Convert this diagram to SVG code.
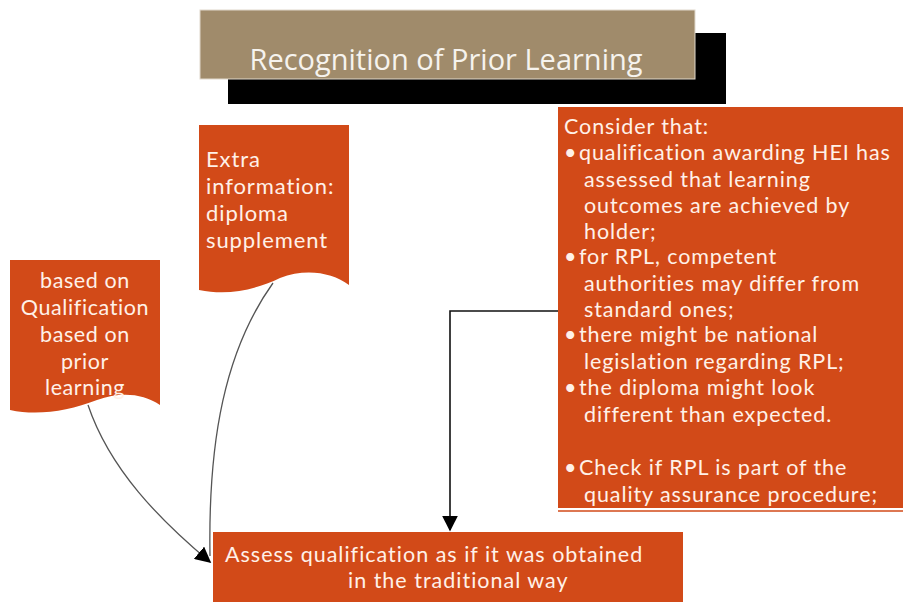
<svg xmlns="http://www.w3.org/2000/svg" width="903" height="602" viewBox="0 0 903 602">
<style>
.box{fill:#D24A18;}
.t{font-family:Lato,"Open Sans","Liberation Sans",sans-serif;fill:#FFF1E8;letter-spacing:0.9px;}
.c{stroke:#555;stroke-width:1.3;fill:none;}
.k{stroke:#111;stroke-width:1.6;fill:none;}
</style>
<defs>
<marker id="ah2" viewBox="0 0 10 10" refX="9" refY="5" markerWidth="16" markerHeight="16" markerUnits="userSpaceOnUse" orient="auto">
<path d="M0,0 L10,5 L0,10 Z" fill="#000"/>
</marker>
</defs>
<rect width="903" height="602" fill="#fff"/>
<g id="title">
<rect x="228" y="33" width="498" height="71" fill="#000"/>
<rect x="200" y="10" width="495" height="69" fill="#A08B6B" stroke="#e0d8cc" stroke-width="1"/>
<text x="446" y="70" text-anchor="middle" font-family="'Open Sans','Liberation Sans',sans-serif" font-size="29" fill="#F6F3EE">Recognition of Prior Learning</text>
</g>
<g id="rpl-doc">
<path class="box" d="M10,260 H160 V405 C142,393 120,392 97,400 C68,411 38,416 10,410 Z"/>
<text class="t" text-anchor="middle" font-size="21.5" style="letter-spacing:0.6px"><tspan x="85" y="288">based on</tspan><tspan x="85" y="315">Qualification</tspan><tspan x="85" y="342">based on</tspan><tspan x="85" y="369">prior</tspan><tspan x="85" y="395">learning</tspan></text>
</g>
<g id="extra-doc">
<path class="box" d="M199,125 H349 V285 C332,272 305,268 280,278 C255,290 228,296 199,290 Z"/>
<text class="t" font-size="22"><tspan x="206" y="167">Extra</tspan><tspan x="206" y="194">information:</tspan><tspan x="206" y="221">diploma</tspan><tspan x="206" y="248">supplement</tspan></text>
</g>
<g id="consider">
<rect class="box" x="558" y="107" width="345" height="401"/>
<line x1="558" y1="511" x2="903" y2="511" stroke="#D24A18" stroke-width="1.5"/>
<text class="t" font-size="21.5">
<tspan x="564" y="134">Consider that:</tspan>
<tspan x="564" y="160">•</tspan><tspan x="579" y="160">qualification awarding HEI has</tspan>
<tspan x="584" y="187">assessed that learning</tspan>
<tspan x="584" y="213">outcomes are achieved by</tspan>
<tspan x="584" y="239">holder;</tspan>
<tspan x="564" y="264">•</tspan><tspan x="579" y="264">for RPL, competent</tspan>
<tspan x="584" y="291">authorities may differ from</tspan>
<tspan x="584" y="317">standard ones;</tspan>
<tspan x="564" y="342">•</tspan><tspan x="579" y="342">there might be national</tspan>
<tspan x="584" y="369">legislation regarding RPL;</tspan>
<tspan x="564" y="395">•</tspan><tspan x="579" y="395">the diploma might look</tspan>
<tspan x="584" y="422">different than expected.</tspan>
<tspan x="564" y="475">•</tspan><tspan x="579" y="475">Check if RPL is part of the</tspan>
<tspan x="584" y="502">quality assurance procedure;</tspan>
</text>
</g>
<g id="assess">
<rect class="box" x="213" y="532" width="470" height="70"/>
<text class="t" font-size="21.5" style="letter-spacing:1px"><tspan x="225" y="562">Assess qualification as if it was obtained</tspan><tspan x="348" y="588">in the traditional way</tspan></text>
</g>
<g id="connectors">
<path class="c" d="M88,405 C110,470 160,520 210,562" marker-end="url(#ah2)"/>
<path class="c" d="M273,283 C225,350 208,440 210,556"/>
<path class="k" d="M558,311 H450 V530" marker-end="url(#ah2)"/>
</g>
</svg>
